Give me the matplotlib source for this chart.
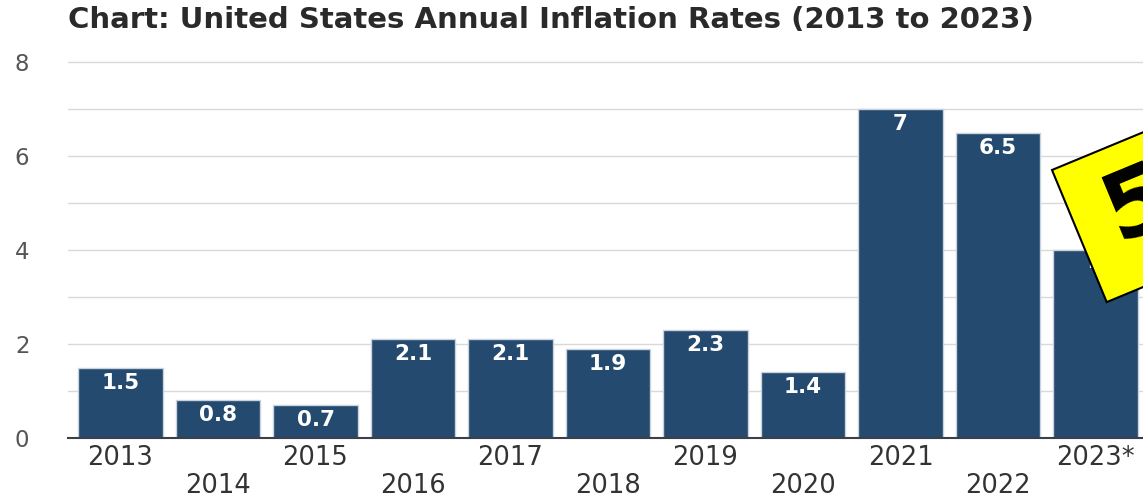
import matplotlib
matplotlib.use("Agg")
import matplotlib.pyplot as plt
from matplotlib.patches import Polygon
import numpy as np

# Annual inflation rates (%)
years = ["2013", "2014", "2015", "2016", "2017", "2018",
         "2019", "2020", "2021", "2022", "2023*"]
rates = [1.5, 0.8, 0.7, 2.1, 2.1, 1.9, 2.3, 1.4, 7.0, 6.5, 4.0]
rate_labels = ["1.5", "0.8", "0.7", "2.1", "2.1", "1.9", "2.3", "1.4", "7", "6.5", "4"]
y_ticks = [0, 2, 4, 6, 8]
sticker_text = "5"

W, H = 1143, 498
BAR = "#254a70"
TXT = "#333333"

plt.rcParams["font.family"] = ["DejaVu Sans"]

fig = plt.figure(figsize=(W / 100, H / 100), dpi=100)

# axes placed in pixel units: left 68px, right at figure edge; y=0 at 438px, y=8 at 62px
px_per_unit = (438 - 62) / 8.0
ytop = 8.5
ax_bottom = (H - 438) / H
ax_height = ytop * px_per_unit / H
ax = fig.add_axes([68 / W, ax_bottom, 1 - 68 / W, ax_height])

x = np.arange(len(years))
step_px = 97.5
first_center_px = 120.5
ax.set_xlim(-(first_center_px - 68) / step_px, (W - first_center_px) / step_px)
ax.set_ylim(0, ytop)

bars = ax.bar(x, rates, width=0.87, color=BAR, edgecolor="#c9d3de",
              linewidth=1.0, zorder=3)

# value labels inside the top of each bar
for xi, v, lab in zip(x, rates, rate_labels):
    ax.annotate(lab, xy=(xi, v), xytext=(0, -15), textcoords="offset pixels",
                ha="center", va="center", color="white", fontsize=15.5,
                fontweight="bold", zorder=4)

# light grid every unit, labels every two
ax.set_yticks(np.arange(0, 9, 1), minor=True)
ax.set_yticks(y_ticks)
ax.set_yticklabels([str(t) for t in y_ticks])
ax.grid(axis="y", which="both", color="#d9d9d9", linewidth=1.0, zorder=0)
ax.set_axisbelow(True)
for lab in ax.get_yticklabels():
    lab.set_horizontalalignment("center")
ax.tick_params(axis="y", which="both", length=0, pad=33, labelsize=16.5,
               labelcolor="#555555")

for s in ["top", "right", "left"]:
    ax.spines[s].set_visible(False)
ax.spines["bottom"].set_color("#3a3f48")
ax.spines["bottom"].set_linewidth(1.5)
ax.spines["bottom"].set_zorder(5)

# staggered year labels
ax.set_xticks(x)
ax.set_xticklabels(years)
ax.tick_params(axis="x", length=0, labelsize=18.5, labelcolor=TXT)
for i, t in enumerate(ax.xaxis.get_major_ticks()):
    t.set_pad(5 if i % 2 == 0 else 25)

fig.text(68 / W, 1 - 20 / H,
         "Chart: United States Annual Inflation Rates (2013 to 2023)",
         ha="left", va="center", fontsize=21, fontweight="bold", color="#2a2a2a")

# rotated yellow sticker
ang = np.deg2rad(22.5)
u = np.array([np.cos(ang), -np.sin(ang)])   # along top edge (image coords, y down)
v = np.array([np.sin(ang), np.cos(ang)])    # down the left edge
tl = np.array([1052.0, 170.0])
bw, bh = 260.0, 143.0
corners = [tl, tl + bw * u, tl + bw * u + bh * v, tl + bh * v]
corners_fig = [(c[0] / W, 1 - c[1] / H) for c in corners]
fig.add_artist(Polygon(corners_fig, closed=True, transform=fig.transFigure,
                       facecolor="#ffff00", edgecolor="black", linewidth=1.5,
                       zorder=10))
anchor = tl + 34 * u + 66 * v
fig.text(anchor[0] / W, 1 - anchor[1] / H, sticker_text, rotation=22.5,
         rotation_mode="anchor", ha="left", va="center", fontsize=68,
         fontweight="bold", color="black", zorder=11)

fig.savefig("out.png", dpi=100)
